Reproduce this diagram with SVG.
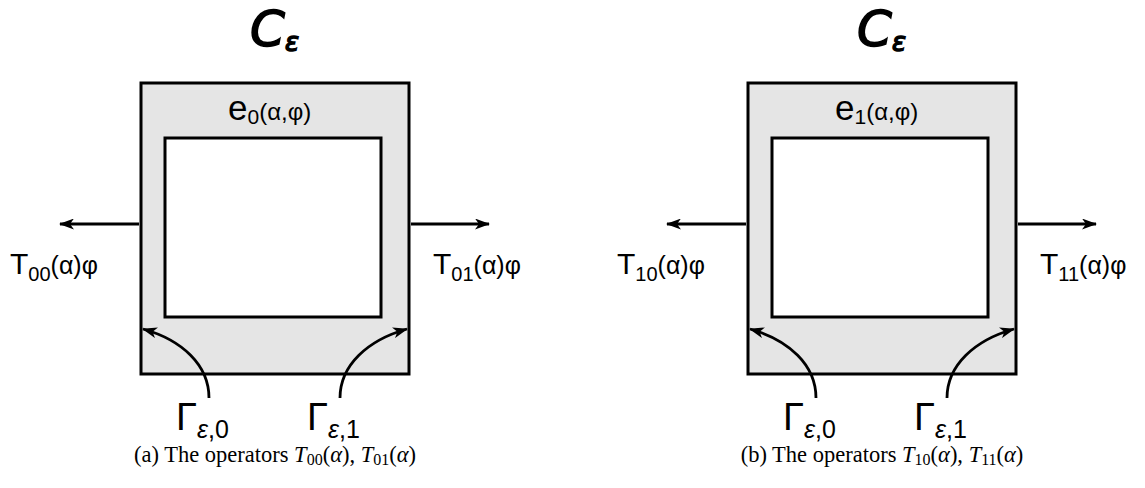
<svg xmlns="http://www.w3.org/2000/svg" width="1145" height="488" viewBox="0 0 1145 488">
<style>
.outer{fill:#e5e5e5;stroke:#000;stroke-width:3}
.inner{fill:#fff;stroke:#000;stroke-width:3}
.arr{fill:none;stroke:#000;stroke-width:2.8}
.lbl{font-family:"Liberation Sans",Arial,sans-serif;fill:#000}
.ttl{font-family:"DejaVu Sans","Liberation Sans",sans-serif;font-style:italic;fill:#000;stroke:#000;stroke-width:1.5}
.cap{font-family:"Liberation Serif","Times New Roman",serif;fill:#000}
.it{font-style:italic}
</style>
<defs>
<marker id="ah" viewBox="0 0 15 11" refX="14" refY="5.5" markerWidth="15" markerHeight="11" markerUnits="userSpaceOnUse" orient="auto">
<path d="M0,0 L15,5.5 L0,11 L4,5.5 z" fill="#000"/>
</marker>
</defs>
<g id="panel-a">
<g id="title-a"><text class="ttl" x="250" y="46" font-size="50">C<tspan font-size="26" dy="5">ε</tspan></text></g>
<g id="box-a"><rect class="outer" x="141" y="83" width="268" height="291"/><rect class="inner" x="165" y="138" width="216" height="179"/></g>
<g id="e0"><text class="lbl" x="228" y="120" font-size="35">e<tspan font-size="21" dy="4">0</tspan><tspan font-size="24" dy="-4">(α,φ)</tspan></text></g>
<g id="T00"><text class="lbl" x="10" y="274" font-size="30">T<tspan font-size="20" dy="7">00</tspan><tspan font-size="25" dy="-7">(α)φ</tspan></text></g>
<g id="T01"><text class="lbl" x="433" y="274" font-size="30">T<tspan font-size="20" dy="7">01</tspan><tspan font-size="25" dy="-7">(α)φ</tspan></text></g>
<g id="G0a"><text class="lbl" x="176" y="430" font-size="38">Γ<tspan font-size="25" dy="8"><tspan class="it">ε</tspan>,0</tspan></text></g>
<g id="G1a"><text class="lbl" x="307" y="430" font-size="38">Γ<tspan font-size="25" dy="8"><tspan class="it">ε</tspan>,1</tspan></text></g>
<g id="cap-a"><text class="cap" x="275" y="462" font-size="22.5" text-anchor="middle">(a) The operators <tspan class="it">T</tspan><tspan font-size="16" dy="3">00</tspan><tspan dy="-3">(</tspan><tspan class="it">α</tspan>), <tspan class="it">T</tspan><tspan font-size="16" dy="3">01</tspan><tspan dy="-3">(</tspan><tspan class="it">α</tspan>)</text></g>
</g>
<g id="panel-b">
<g id="title-b"><text class="ttl" x="857" y="46" font-size="50">C<tspan font-size="26" dy="5">ε</tspan></text></g>
<g id="box-b"><rect class="outer" x="748" y="83" width="268" height="291"/><rect class="inner" x="772" y="138" width="216" height="179"/></g>
<g id="e1"><text class="lbl" x="835" y="120" font-size="35">e<tspan font-size="21" dy="4">1</tspan><tspan font-size="24" dy="-4">(α,φ)</tspan></text></g>
<g id="T10"><text class="lbl" x="617" y="274" font-size="30">T<tspan font-size="20" dy="7">10</tspan><tspan font-size="25" dy="-7">(α)φ</tspan></text></g>
<g id="T11"><text class="lbl" x="1040" y="274" font-size="30">T<tspan font-size="20" dy="7">11</tspan><tspan font-size="25" dy="-7">(α)φ</tspan></text></g>
<g id="G0b"><text class="lbl" x="783" y="430" font-size="38">Γ<tspan font-size="25" dy="8"><tspan class="it">ε</tspan>,0</tspan></text></g>
<g id="G1b"><text class="lbl" x="914" y="430" font-size="38">Γ<tspan font-size="25" dy="8"><tspan class="it">ε</tspan>,1</tspan></text></g>
<g id="cap-b"><text class="cap" x="882" y="462" font-size="22.5" text-anchor="middle">(b) The operators <tspan class="it">T</tspan><tspan font-size="16" dy="3">10</tspan><tspan dy="-3">(</tspan><tspan class="it">α</tspan>), <tspan class="it">T</tspan><tspan font-size="16" dy="3">11</tspan><tspan dy="-3">(</tspan><tspan class="it">α</tspan>)</text></g>
</g>
<g id="connectors">
<line class="arr" x1="139" y1="224" x2="60" y2="224" marker-end="url(#ah)"/>
<line class="arr" x1="411" y1="224" x2="489" y2="224" marker-end="url(#ah)"/>
<path class="arr" d="M209,398 C209,365 182,340 143,329" marker-end="url(#ah)"/>
<path class="arr" d="M340,398 C340,365 368,340 407,329" marker-end="url(#ah)"/>
<line class="arr" x1="746" y1="224" x2="667" y2="224" marker-end="url(#ah)"/>
<line class="arr" x1="1018" y1="224" x2="1096" y2="224" marker-end="url(#ah)"/>
<path class="arr" d="M816,398 C816,365 789,340 750,329" marker-end="url(#ah)"/>
<path class="arr" d="M947,398 C947,365 975,340 1014,329" marker-end="url(#ah)"/>
</g>
</svg>
